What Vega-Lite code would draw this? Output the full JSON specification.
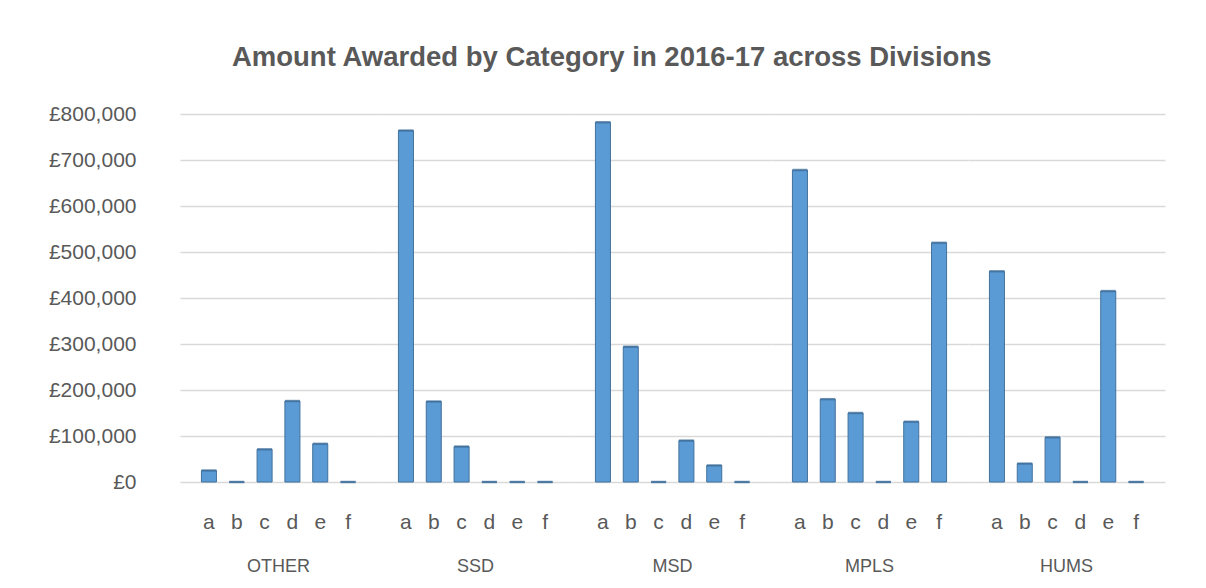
{
  "$schema": "https://vega.github.io/schema/vega-lite/v6.json",
  "padding": {"left": 48, "top": 43, "right": 20, "bottom": 6},
  "background": "white",
  "title": {
    "text": "Amount Awarded by Category in 2016-17 across Divisions",
    "font": "Liberation Sans",
    "fontSize": 27.5,
    "fontWeight": "bold",
    "color": "#595959",
    "anchor": "middle",
    "frame": "bounds",
    "offset": 32,
    "dx": 5
  },
  "data": {
    "values": [
      {"division": "OTHER", "category": "a", "amount": 25000},
      {"division": "OTHER", "category": "b", "amount": 0},
      {"division": "OTHER", "category": "c", "amount": 71000},
      {"division": "OTHER", "category": "d", "amount": 176000},
      {"division": "OTHER", "category": "e", "amount": 83000},
      {"division": "OTHER", "category": "f", "amount": 0},
      {"division": "SSD", "category": "a", "amount": 764000},
      {"division": "SSD", "category": "b", "amount": 175000},
      {"division": "SSD", "category": "c", "amount": 77000},
      {"division": "SSD", "category": "d", "amount": 0},
      {"division": "SSD", "category": "e", "amount": 0},
      {"division": "SSD", "category": "f", "amount": 0},
      {"division": "MSD", "category": "a", "amount": 782000},
      {"division": "MSD", "category": "b", "amount": 294000},
      {"division": "MSD", "category": "c", "amount": 0},
      {"division": "MSD", "category": "d", "amount": 90000},
      {"division": "MSD", "category": "e", "amount": 36000},
      {"division": "MSD", "category": "f", "amount": 0},
      {"division": "MPLS", "category": "a", "amount": 678000},
      {"division": "MPLS", "category": "b", "amount": 180000},
      {"division": "MPLS", "category": "c", "amount": 150000},
      {"division": "MPLS", "category": "d", "amount": 0},
      {"division": "MPLS", "category": "e", "amount": 131000},
      {"division": "MPLS", "category": "f", "amount": 520000},
      {"division": "HUMS", "category": "a", "amount": 458000},
      {"division": "HUMS", "category": "b", "amount": 40000},
      {"division": "HUMS", "category": "c", "amount": 97000},
      {"division": "HUMS", "category": "d", "amount": 0},
      {"division": "HUMS", "category": "e", "amount": 415000},
      {"division": "HUMS", "category": "f", "amount": 0}
    ]
  },
  "facet": {
    "column": {
      "field": "division",
      "type": "nominal",
      "sort": ["OTHER", "SSD", "MSD", "MPLS", "HUMS"],
      "header": {
        "title": null,
        "labelOrient": "bottom",
        "labelFont": "Liberation Sans",
        "labelFontSize": 18,
        "labelColor": "#595959",
        "labelPadding": 26
      }
    }
  },
  "spacing": 0,
  "spec": {
    "width": 197,
    "height": 368,
    "encoding": {
      "x": {
        "field": "category",
        "type": "nominal",
        "sort": ["a", "b", "c", "d", "e", "f"],
        "scale": {"paddingInner": 0.46, "paddingOuter": 0.77},
        "axis": {
          "title": null,
          "labelAngle": 0,
          "domain": false,
          "ticks": false,
          "labelFont": "Liberation Sans",
          "labelFontSize": 21,
          "labelColor": "#595959",
          "labelPadding": 27
        }
      },
      "y": {
        "field": "amount",
        "type": "quantitative",
        "scale": {"domain": [0, 800000], "nice": false},
        "axis": {
          "title": null,
          "values": [0, 100000, 200000, 300000, 400000, 500000, 600000, 700000, 800000],
          "labelExpr": "'£' + format(datum.value, ',')",
          "domain": false,
          "ticks": false,
          "grid": true,
          "gridColor": "#d9d9d9",
          "gridWidth": 1.5,
          "labelFont": "Liberation Sans",
          "labelFontSize": 21,
          "labelColor": "#595959",
          "labelPadding": 44
        }
      }
    },
    "layer": [
      {
        "mark": {"type": "bar", "color": "#5b9bd5", "stroke": "#41719c", "strokeWidth": 1}
      },
      {
        "mark": {"type": "tick", "color": "#41719c", "thickness": 2.5, "size": 15, "orient": "horizontal"}
      }
    ]
  },
  "config": {
    "view": {"stroke": null}
  }
}
